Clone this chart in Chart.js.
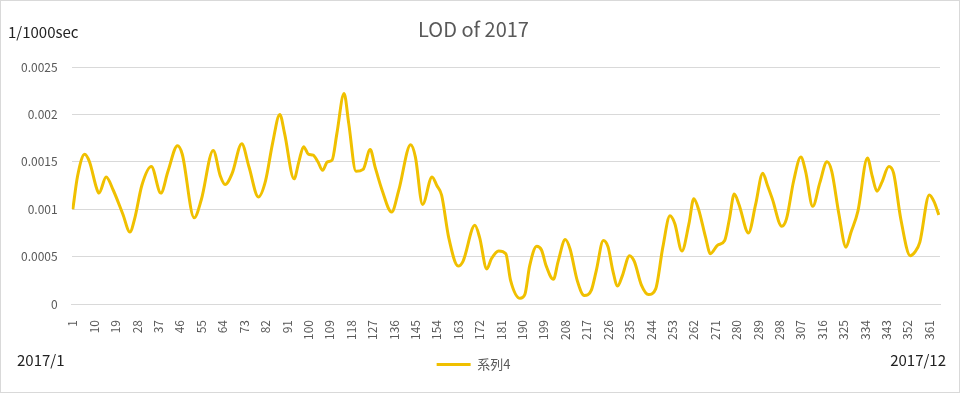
<!DOCTYPE html>
<html>
<head>
<meta charset="utf-8">
<script src="https://cdn.jsdelivr.net/npm/chart.js@4/dist/chart.umd.min.js"></script>
<style>
html,body{margin:0;padding:0;background:#fff;}
#wrap{position:relative;width:960px;height:393px;overflow:hidden;}
#c{position:absolute;left:0;top:0;}
#frame{position:absolute;left:0;top:0;width:960px;height:393px;box-sizing:border-box;border:1px solid #d9d9d9;pointer-events:none;}
.lbl{position:absolute;font-family:"Noto Sans CJK JP","Noto Sans",sans-serif;color:#222;font-size:15px;line-height:18px;white-space:nowrap;}
</style>
</head>
<body>
<div id="wrap">
  <canvas id="c" width="960" height="393"></canvas>
  <div class="lbl" style="left:8px;top:23px;">1/1000sec</div>
  <div class="lbl" style="left:17px;top:351px;">2017/1</div>
  <div class="lbl" style="right:14px;top:351px;">2017/12</div>
  <div id="frame"></div>
</div>
<script>
// Day of year (category) and LOD value
const days = [1,3,6,8,11,12,15,18,22,25,27,30,34,38,41,45,47,52,55,60,63,65,68,72,75,79,82,85,88,90,
  94,96,98,100,102,104,106,108,110,112,115,117,120,123,126,128,131,135,138,143,145,148,152,154,156,159,
  163,165,170,172,175,177,180,183,185,189,191,193,196,198,200,203,205,208,210,213,216,219,221,224,226,
  228,230,232,235,237,240,243,246,249,252,254,257,260,262,264,267,269,272,275,277,279,281,285,288,291,
  293,295,299,301,304,307,309,312,315,318,320,323,326,328,331,335,337,339,341,344,346,349,353,355,357,
  361,363,365];
const lod = [0.00100,0.00135,0.00158,0.00150,0.00122,0.00117,0.00134,0.00120,0.00095,0.00076,0.00090,
  0.00125,0.00145,0.00117,0.00140,0.00167,0.00158,0.00091,0.00110,0.00162,0.00135,0.00126,0.00138,
  0.00169,0.00145,0.00113,0.00130,0.00170,0.00200,0.00180,
  0.00132,0.00150,0.00166,0.00158,0.00157,0.00150,0.00141,0.00150,0.00152,0.00180,0.00222,0.00190,
  0.00140,0.00142,0.00163,0.00145,0.00120,0.00097,0.00120,0.00168,0.00155,0.00105,0.00134,0.00125,
  0.00115,0.00070,
  0.00040,0.00045,0.00083,0.00070,0.00037,0.00048,0.00056,0.00053,0.00025,0.00006,0.00010,0.00040,
  0.00061,0.00057,0.00040,0.00026,0.00045,0.00068,0.00058,0.00025,0.00009,0.00015,0.00035,0.00067,
  0.00060,0.00035,0.00019,0.00030,0.00051,0.00045,0.00020,0.00010,0.00016,0.00060,0.00093,0.00085,
  0.00056,0.00085,0.00111,0.00100,0.00070,0.00053,0.00062,0.00067,0.00090,0.00116,0.00105,0.00075,
  0.00105,0.00138,0.00125,0.00111,0.00082,0.00090,0.00130,0.00155,0.00140,0.00103,0.00128,0.00150,
  0.00140,0.00095,0.00060,0.00075,0.00098,0.00154,0.00135,0.00119,0.00128,0.00145,0.00138,0.00090,
  0.00051,0.00055,0.00065,0.00115,0.00108,0.00094];
const xTickLabels = [1,10,19,28,37,46,55,64,73,82,91,100,109,118,127,136,145,154,163,172,181,190,199,
  208,217,226,235,244,253,262,271,280,289,298,307,316,325,334,343,352,361];
const yTickValues = [0,0.0005,0.001,0.0015,0.002,0.0025];
const yTickLabels = ["0","0.0005","0.001","0.0015","0.002","0.0025"];
const seriesName = "系列4";
const titleText = "LOD of 2017";

const FONT = '"Noto Sans CJK JP","Noto Sans",sans-serif';
const GOLD = '#f0c000';
const points = days.map((d, i) => ({x: d, y: lod[i]}));

new Chart(document.getElementById('c'), {
  type: 'line',
  data: {
    datasets: [{
      label: seriesName,
      data: points,
      borderColor: GOLD,
      backgroundColor: GOLD,
      borderWidth: 3,
      pointRadius: 0,
      cubicInterpolationMode: 'monotone',
      fill: false
    }]
  },
  options: {
    responsive: false,
    animation: false,
    devicePixelRatio: 1,
    layout: {padding: {left: 7, right: 20, top: 8, bottom: 12}},
    plugins: {
      title: {
        display: true, text: titleText, color: '#595959',
        font: {family: FONT, size: 20, weight: 'normal'},
        padding: {top: 9, bottom: 26}
      },
      legend: {
        position: 'bottom',
        labels: {
          color: '#595959', font: {family: FONT, size: 13},
          usePointStyle: true, pointStyle: 'line', pointStyleWidth: 34,
          padding: 10
        }
      },
      tooltip: {enabled: false}
    },
    scales: {
      x: {
        type: 'linear', min: 0.5, max: 365.5,
        afterBuildTicks: (axis) => { axis.ticks = xTickLabels.map(v => ({value: v})); },
        grid: {display: false},
        border: {display: true, color: '#d9d9d9'},
        ticks: {
          color: '#595959', font: {family: FONT, size: 12},
          minRotation: 90, maxRotation: 90, autoSkip: false, padding: 8,
          callback: (v) => String(v)
        }
      },
      y: {
        min: 0, max: 0.0025,
        afterBuildTicks: (axis) => { axis.ticks = yTickValues.map(v => ({value: v})); },
        grid: {color: '#d9d9d9', drawTicks: false},
        border: {display: false},
        ticks: {
          color: '#595959', font: {family: FONT, size: 12}, padding: 14,
          callback: (v, i) => yTickLabels[i]
        }
      }
    }
  }
});
</script>
</body>
</html>
